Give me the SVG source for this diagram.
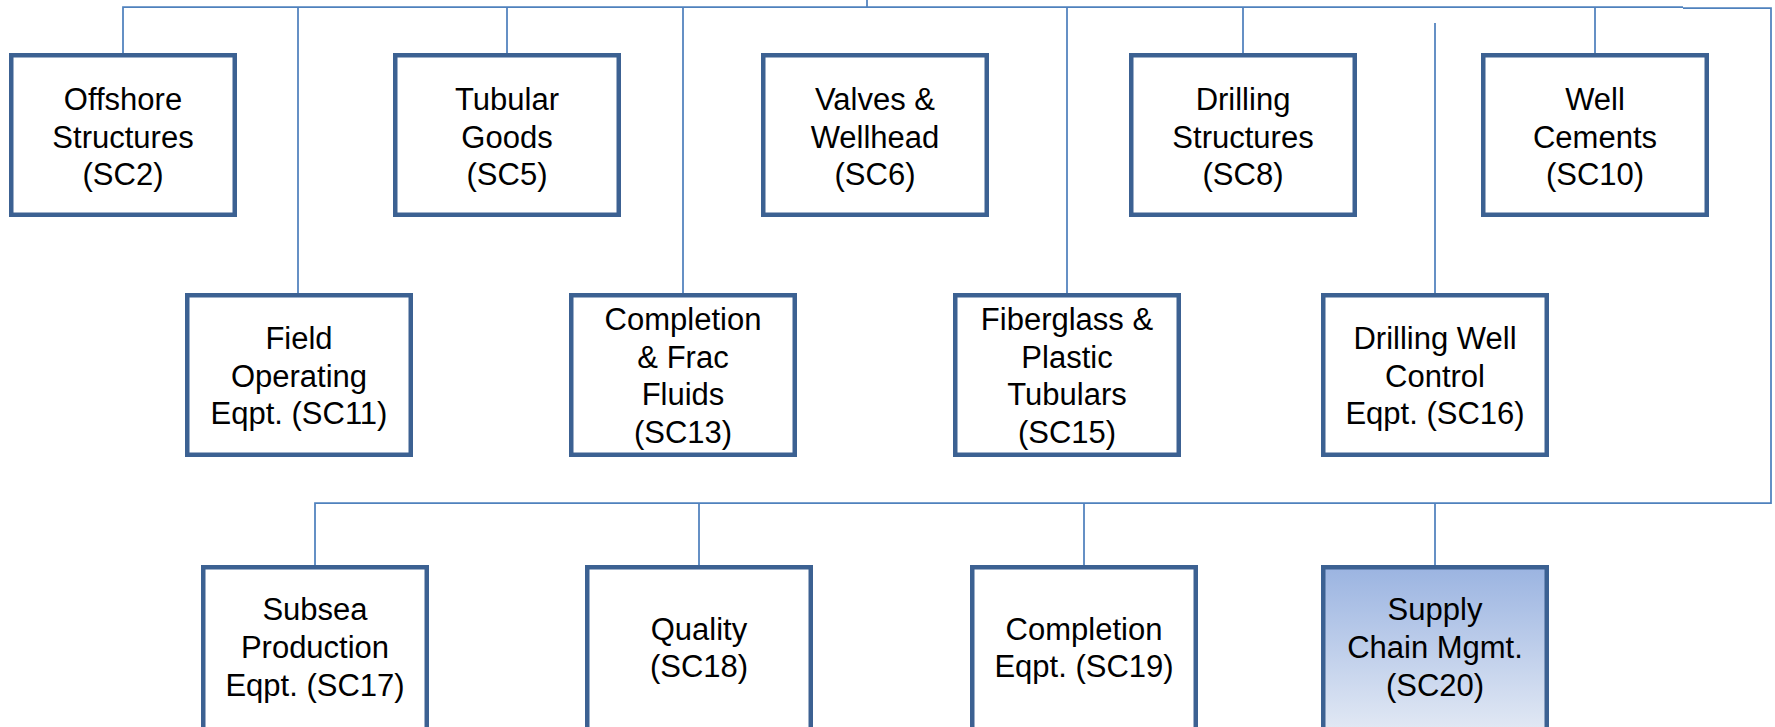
<svg xmlns="http://www.w3.org/2000/svg" width="1775" height="727" viewBox="0 0 1775 727">
<style>
.box{fill:#ffffff;stroke:#3c6192;stroke-width:4.5;}
.hl{fill:url(#g);}
.t{font-family:"Liberation Sans",Arial,sans-serif;font-size:31px;fill:#000;text-anchor:middle;}
.c{fill:none;stroke:#4f81bd;stroke-width:1.75;}
</style>
<defs>
<linearGradient id="g" x1="0" y1="0" x2="0" y2="1">
<stop offset="0" stop-color="#9bb4e1"/>
<stop offset="1" stop-color="#e1e8f4"/>
</linearGradient>
</defs>
<rect width="1775" height="727" fill="#ffffff"/>
<g id="connectors">
<path class="c" d="M867,0 V7"/>
<path class="c" d="M123,53 V7 H1683"/>
<path class="c" d="M1683,8 H1771 V503 H315 V565"/>
<path class="c" d="M298,7 V293"/>
<path class="c" d="M507,7 V53"/>
<path class="c" d="M683,7 V293"/>
<path class="c" d="M1067,7 V293"/>
<path class="c" d="M1243,7 V53"/>
<path class="c" d="M1595,7 V53"/>
<path class="c" d="M1435,23 V293"/>
<path class="c" d="M699,503 V565"/>
<path class="c" d="M1084,503 V565"/>
<path class="c" d="M1435,503 V565"/>
</g>
<g id="sc2"><rect class="box" x="11.25" y="55.25" width="223.5" height="159.5"/>
<text class="t" x="123"><tspan x="123" y="110">Offshore</tspan><tspan x="123" y="148">Structures</tspan><tspan x="123" y="185">(SC2)</tspan></text></g>
<g id="sc5"><rect class="box" x="395.25" y="55.25" width="223.5" height="159.5"/>
<text class="t"><tspan x="507" y="110">Tubular</tspan><tspan x="507" y="148">Goods</tspan><tspan x="507" y="185">(SC5)</tspan></text></g>
<g id="sc6"><rect class="box" x="763.25" y="55.25" width="223.5" height="159.5"/>
<text class="t"><tspan x="875" y="110">Valves &amp;</tspan><tspan x="875" y="148">Wellhead</tspan><tspan x="875" y="185">(SC6)</tspan></text></g>
<g id="sc8"><rect class="box" x="1131.25" y="55.25" width="223.5" height="159.5"/>
<text class="t"><tspan x="1243" y="110">Drilling</tspan><tspan x="1243" y="148">Structures</tspan><tspan x="1243" y="185">(SC8)</tspan></text></g>
<g id="sc10"><rect class="box" x="1483.25" y="55.25" width="223.5" height="159.5"/>
<text class="t"><tspan x="1595" y="110">Well</tspan><tspan x="1595" y="148">Cements</tspan><tspan x="1595" y="185">(SC10)</tspan></text></g>
<g id="sc11"><rect class="box" x="187.25" y="295.25" width="223.5" height="159.5"/>
<text class="t"><tspan x="299" y="349">Field</tspan><tspan x="299" y="387">Operating</tspan><tspan x="299" y="424">Eqpt. (SC11)</tspan></text></g>
<g id="sc13"><rect class="box" x="571.25" y="295.25" width="223.5" height="159.5"/>
<text class="t"><tspan x="683" y="330">Completion</tspan><tspan x="683" y="368">&amp; Frac</tspan><tspan x="683" y="405">Fluids</tspan><tspan x="683" y="443">(SC13)</tspan></text></g>
<g id="sc15"><rect class="box" x="955.25" y="295.25" width="223.5" height="159.5"/>
<text class="t"><tspan x="1067" y="330">Fiberglass &amp;</tspan><tspan x="1067" y="368">Plastic</tspan><tspan x="1067" y="405">Tubulars</tspan><tspan x="1067" y="443">(SC15)</tspan></text></g>
<g id="sc16"><rect class="box" x="1323.25" y="295.25" width="223.5" height="159.5"/>
<text class="t"><tspan x="1435" y="349">Drilling Well</tspan><tspan x="1435" y="387">Control</tspan><tspan x="1435" y="424">Eqpt. (SC16)</tspan></text></g>
<g id="sc17"><rect class="box" x="203.25" y="567.25" width="223.5" height="162"/>
<text class="t"><tspan x="315" y="620">Subsea</tspan><tspan x="315" y="658">Production</tspan><tspan x="315" y="696">Eqpt. (SC17)</tspan></text></g>
<g id="sc18"><rect class="box" x="587.25" y="567.25" width="223.5" height="162"/>
<text class="t"><tspan x="699" y="640">Quality</tspan><tspan x="699" y="677">(SC18)</tspan></text></g>
<g id="sc19"><rect class="box" x="972.25" y="567.25" width="223.5" height="162"/>
<text class="t"><tspan x="1084" y="640">Completion</tspan><tspan x="1084" y="677">Eqpt. (SC19)</tspan></text></g>
<g id="sc20"><rect class="box hl" x="1323.25" y="567.25" width="223.5" height="162"/>
<text class="t"><tspan x="1435" y="620">Supply</tspan><tspan x="1435" y="658">Chain Mgmt.</tspan><tspan x="1435" y="696">(SC20)</tspan></text></g>
</svg>
